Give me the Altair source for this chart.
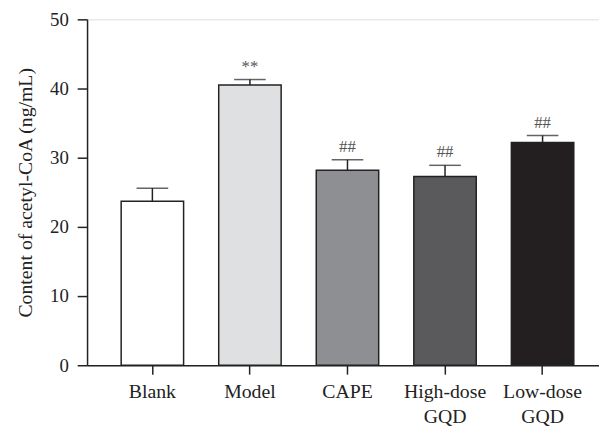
import altair as alt
import pandas as pd

groups = ["Blank", "Model", "CAPE", "High-dose GQD", "Low-dose GQD"]
means = [23.7, 40.5, 28.2, 27.3, 32.2]
errors = [25.6, 41.3, 29.7, 28.9, 33.2]
marks = ["", "**", "##", "##", "##"]
fills = ["#ffffff", "#dfe0e2", "#8e8f93", "#5a5a5c", "#231f20"]

df = pd.DataFrame({"group": groups, "mean": means, "err": errors, "mark": marks, "fill": fills})

FONT = "Liberation Serif"

x = alt.X("group:N", sort=groups, title=None,
          scale=alt.Scale(paddingInner=0.36, paddingOuter=0.304, align=0.575),
          axis=alt.Axis(labelAngle=0, labelFontSize=20, labelFont=FONT, labelColor="#222",
                        labelExpr="split(datum.label, ' ')", labelLineHeight=25,
                        labelPadding=8, tickSize=9, tickWidth=1.5, tickColor="#222",
                        domainColor="#222", domainWidth=1.5))
y = alt.Y("mean:Q", title="Content of acetyl-CoA (ng/mL)",
          scale=alt.Scale(domain=[0, 50], nice=False),
          axis=alt.Axis(values=[0, 10, 20, 30, 40, 50], grid=False, labelFontSize=19,
                        labelFont=FONT, labelColor="#222", labelPadding=9,
                        tickSize=10, tickWidth=1.5, tickColor="#222",
                        domainColor="#222", domainWidth=1.5,
                        titleFont=FONT, titleFontSize=20, titleFontWeight="normal",
                        titleColor="#222", titlePadding=14))

base = alt.Chart(df)

rule = base.mark_rule(color="#222", strokeWidth=1.5).encode(
    x=x, y=y, y2="err:Q")
cap = base.mark_tick(color="#222", thickness=1.5, size=32, orient="horizontal").encode(
    x=x, y=alt.Y("err:Q"))
bars = base.mark_bar(stroke="#222", strokeWidth=1.5).encode(
    x=x, y=y, fill=alt.Fill("fill:N", scale=None))
text = base.mark_text(font=FONT, fontSize=17, color="#555", dy=-13, baseline="middle").encode(
    x=x, y=alt.Y("err:Q"), text="mark:N")

chart = alt.layer(rule, cap, bars, text).properties(
    width=518, height=350,
    autosize=alt.AutoSizeParams(type="none"),
    padding={"left": 80, "top": 9, "right": 0, "bottom": 60},
).configure_view(stroke=None).configure(background="white")

chart.save("out.html", embed_options={"renderer": "svg", "actions": False})
